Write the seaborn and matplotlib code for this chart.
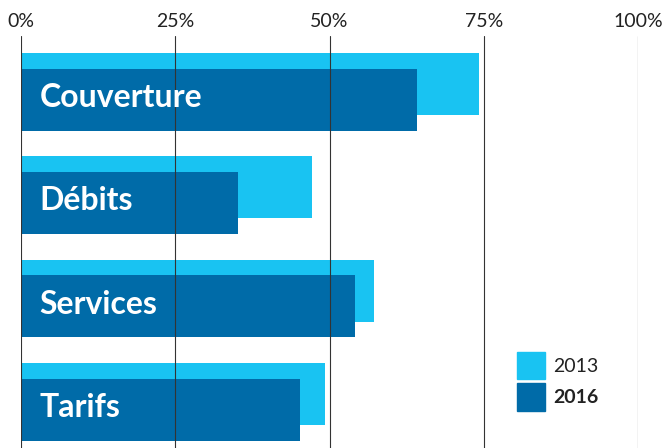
import pandas as pd
import numpy as np
import matplotlib.pyplot as plt
import seaborn as sns
from matplotlib.patches import Patch

sns.set_theme(style='white')
plt.rcParams['font.family'] = ['Lato', 'DejaVu Sans']

categories = ['Couverture', 'Débits', 'Services', 'Tarifs']
vals_2013 = [74.2, 47.2, 57.2, 49.3]
vals_2016 = [64.2, 35.2, 54.1, 45.2]
ticks = [0, 25, 50, 75, 100]

c2013 = '#19C3F2'
c2016 = '#006BA8'

pos = np.arange(len(categories))
df13 = pd.DataFrame({'pos': pos, 'val': vals_2013})
df16 = pd.DataFrame({'pos': pos + 0.15, 'val': vals_2016})

fig = plt.figure(figsize=(6.65, 4.48), dpi=100)
ax = fig.add_axes([21 / 665, 0, 617 / 665, 1 - 36 / 448])

sns.barplot(data=df13, x='val', y='pos', orient='h', native_scale=True,
            color=c2013, width=0.6, saturation=1, linewidth=0, ax=ax, zorder=1)
sns.barplot(data=df16, x='val', y='pos', orient='h', native_scale=True,
            color=c2016, width=0.6, saturation=1, linewidth=0, ax=ax, zorder=2)

for t in ticks:
    ax.axvline(t, color='#333333', lw=0.8, zorder=3)

for i, name in enumerate(categories):
    ax.text(3.0, i + 0.13, name, color='white', fontsize=23, fontweight='bold',
            va='center', ha='left', zorder=4)

ax.set_xlim(0, 100)
ax.set_ylim(3.52, -0.465)
ax.xaxis.tick_top()
ax.set_xticks(ticks)
ax.set_xticklabels([f'{t}%' for t in ticks], fontsize=14, color='#222222')
ax.tick_params(axis='x', length=0, pad=4)
ax.set_yticks([])
ax.set_xlabel('')
ax.set_ylabel('')
for s in ax.spines.values():
    s.set_visible(False)

handles = [Patch(color=c2013), Patch(color=c2016)]
leg = ax.legend(handles, ['2013', '2016'], loc='lower left',
                bbox_to_anchor=(478 / 617, 20 / 412), frameon=False,
                fontsize=14, handlelength=1.45, handleheight=1.8,
                handletextpad=0.45, labelspacing=0.2)
leg.get_texts()[1].set_fontweight('bold')
for t in leg.get_texts():
    t.set_color('#222222')

fig.savefig('out.png', dpi=100)
